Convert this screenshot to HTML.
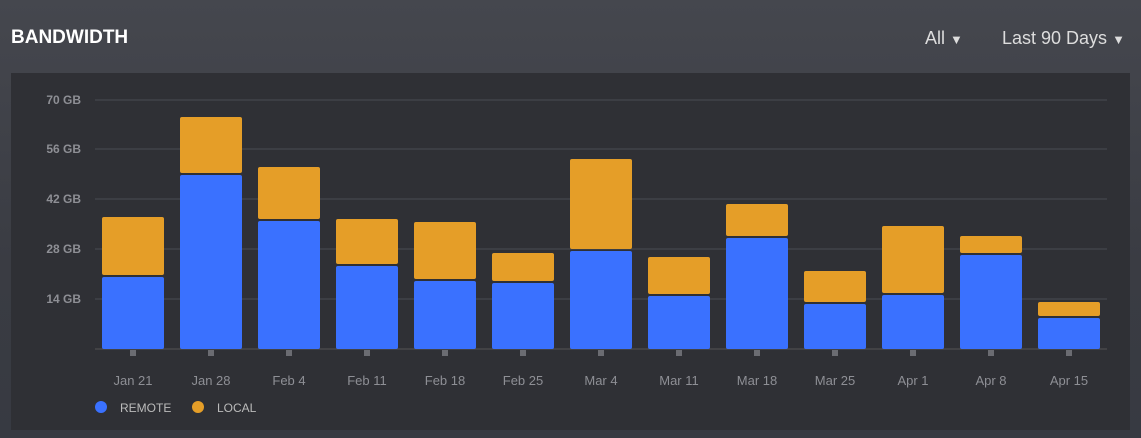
<!DOCTYPE html>
<html><head><style>
body{margin:0;width:1141px;height:438px;background:linear-gradient(180deg,#45474e 0%,#3a3c43 60%,#373a42 100%);font-family:"Liberation Sans",sans-serif;overflow:hidden;position:relative}
.t{position:absolute;color:#fff;font-weight:bold;font-size:19px;left:11px;top:27px}
.dd{position:absolute;color:#ddd;font-size:18px;top:28px}
.panel{position:absolute;left:11px;top:73px;width:1119px;height:357px;background:#2f3035}
</style></head><body>
<div class="t">BANDWIDTH</div>
<div class="dd" style="left:925px">All <span style="font-size:13px">▼</span></div>
<div class="dd" style="left:1002px">Last 90 Days <span style="font-size:13px">▼</span></div>
<div class="panel"></div>
<svg width="1141" height="438" style="position:absolute;left:0;top:0" font-family="Liberation Sans, sans-serif">
<g stroke="#4a4b52" stroke-width="1">
<line x1="95" x2="1107" y1="100" y2="100"/><line x1="95" x2="1107" y1="149" y2="149"/>
<line x1="95" x2="1107" y1="199" y2="199"/><line x1="95" x2="1107" y1="249" y2="249"/>
<line x1="95" x2="1107" y1="299" y2="299"/><line x1="95" x2="1107" y1="349" y2="349" stroke="#555"/>
</g>
<g fill="#8e8f95" font-size="12" font-weight="bold" text-anchor="end">
<text x="81" y="104">70 GB</text><text x="81" y="153">56 GB</text><text x="81" y="203">42 GB</text>
<text x="81" y="253">28 GB</text><text x="81" y="303">14 GB</text>
</g>
<g id="bars"></g>
<g fill="#8e8f95" font-size="13" text-anchor="middle" id="lbl"></g>
<circle cx="101" cy="407" r="6" fill="#3a71ff"/><text x="120" y="412" fill="#bbb" font-size="12">REMOTE</text>
<circle cx="198" cy="407" r="6" fill="#e59e28"/><text x="217" y="412" fill="#bbb" font-size="12">LOCAL</text>
</svg>
<script>
var d=[["Jan 21",217,277],["Jan 28",117,175],["Feb 4",167,221],["Feb 11",219,266],["Feb 18",222,281],["Feb 25",253,283],["Mar 4",159,251],["Mar 11",257,296],["Mar 18",204,238],["Mar 25",271,304],["Apr 1",226,295],["Apr 8",236,255],["Apr 15",302,318]];
var b="",l="";
d.forEach(function(r,i){var c=133+78*i,x=c-31;
b+='<rect x="'+x+'" y="'+r[1]+'" width="62" height="'+(r[2]-r[1]-2)+'" rx="2" fill="#e59e28"/>';
b+='<rect x="'+x+'" y="'+r[2]+'" width="62" height="'+(349-r[2])+'" rx="2" fill="#3a71ff"/>';
b+='<rect x="'+(c-3)+'" y="350" width="6" height="6" fill="#6b6c72"/>';
l+='<text x="'+c+'" y="385">'+r[0]+'</text>';});
document.getElementById("bars").innerHTML=b;document.getElementById("lbl").innerHTML=l;
</script>
</body></html>
